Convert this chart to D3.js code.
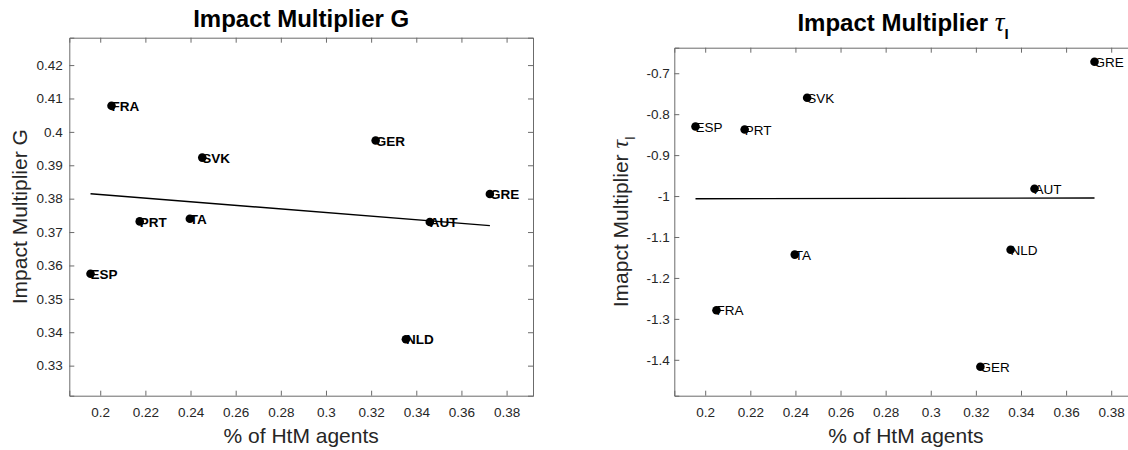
<!DOCTYPE html>
<html>
<head>
<meta charset="utf-8">
<script src="https://cdn.jsdelivr.net/npm/d3@7"></script>
<style>
  body { margin: 0; background: #fff; }
  svg { display: block; font-family: "Liberation Sans", Arial, Helvetica, sans-serif; }
</style>
</head>
<body>
<div id="chart"></div>
<script>
// Values.
const countries = ["ESP", "FRA", "PRT", "TA", "SVK", "GER", "NLD", "AUT", "GRE"];
const htmShare  = [0.1957, 0.205, 0.2175, 0.2397, 0.2452, 0.322, 0.3354, 0.346, 0.3726];
const multG     = [0.3575, 0.4078, 0.3732, 0.374, 0.3923, 0.3974, 0.3379, 0.373, 0.3814];
const multTau   = [-0.830, -1.279, -0.8375, -1.143, -0.760, -1.417, -1.131, -0.982, -0.672];

const xTicks   = [0.2, 0.22, 0.24, 0.26, 0.28, 0.3, 0.32, 0.34, 0.36, 0.38];
const gTicks   = [0.33, 0.34, 0.35, 0.36, 0.37, 0.38, 0.39, 0.4, 0.41, 0.42];
const tauTicks = [-1.4, -1.3, -1.2, -1.1, -1, -0.9, -0.8, -0.7];

const width = 1128;
const height = 450;
const axisColor = "#6b6b6b";
const textColor = "#262626";
const fmt = d => String(+d.toFixed(3));

const svg = d3.select("#chart").append("svg")
    .attr("width", width)
    .attr("height", height);

// Least squares fit of y on x, drawn from min x to max x.
function fitLine(xs, ys) {
    const mx = d3.mean(xs), my = d3.mean(ys);
    const sxy = d3.sum(xs, (v, i) => (v - mx) * (ys[i] - my));
    const sxx = d3.sum(xs, v => (v - mx) * (v - mx));
    const b = sxy / sxx, a = my - b * mx;
    const [lo, hi] = d3.extent(xs);
    return [[lo, a + b * lo], [hi, a + b * hi]];
}

function panel(o) {
    const x = d3.scaleLinear().domain([0.1863, 0.3917]).range([o.left, o.right]);
    const y = d3.scaleLinear().domain(o.yDomain).range([o.bottom, o.top]);
    const g = svg.append("g");

    // box with inward ticks on all four sides
    g.append("g")
        .attr("transform", `translate(0,${o.bottom})`)
        .call(d3.axisBottom(x).tickValues(xTicks).tickFormat(fmt).tickSize(-5).tickPadding(12))
        .call(ax => ax.selectAll("text").attr("fill", textColor).attr("font-size", 13.5));
    g.append("g")
        .attr("transform", `translate(0,${o.top})`)
        .call(d3.axisTop(x).tickValues(xTicks).tickFormat("").tickSize(-5));
    g.append("g")
        .attr("transform", `translate(${o.left},0)`)
        .call(d3.axisLeft(y).tickValues(o.yTicks).tickFormat(fmt).tickSize(-5).tickPadding(o.yPad))
        .call(ax => ax.selectAll("text").attr("fill", textColor).attr("font-size", 13.5));
    g.append("g")
        .attr("transform", `translate(${o.right},0)`)
        .call(d3.axisRight(y).tickValues(o.yTicks).tickFormat("").tickSize(-5));
    g.selectAll(".domain, .tick line").attr("stroke", axisColor);
    g.selectAll("g").attr("font-family", null);

    // fitted line
    const fit = fitLine(htmShare, o.values);
    g.append("path")
        .attr("fill", "none")
        .attr("stroke", "#000")
        .attr("stroke-width", 1.4)
        .attr("d", d3.line().x(d => x(d[0])).y(d => y(d[1]))(fit));

    // dots and country labels
    g.selectAll("circle.pt")
        .data(countries)
        .join("circle")
        .attr("class", "pt")
        .attr("cx", (d, i) => x(htmShare[i]))
        .attr("cy", (d, i) => y(o.values[i]))
        .attr("r", 4.3)
        .attr("fill", "#000");
    g.selectAll("text.lbl")
        .data(countries)
        .join("text")
        .attr("class", "lbl")
        .attr("x", (d, i) => x(htmShare[i]))
        .attr("y", (d, i) => y(o.values[i]))
        .attr("dy", "0.38em")
        .attr("font-size", 13.5)
        .attr("font-weight", o.labelWeight)
        .attr("fill", "#000")
        .text(d => d);

    const cx = (o.left + o.right) / 2;
    const cy = (o.top + o.bottom) / 2;

    // title
    const title = g.append("text")
        .attr("x", o.titleX || cx)
        .attr("y", o.titleY)
        .attr("text-anchor", "middle")
        .attr("font-size", 24)
        .attr("font-weight", "bold")
        .attr("fill", "#000");
    o.title(title);

    // x label
    g.append("text")
        .attr("x", cx)
        .attr("y", 443)
        .attr("text-anchor", "middle")
        .attr("font-size", 21)
        .attr("fill", textColor)
        .text("% of HtM agents");

    // y label
    const yl = g.append("text")
        .attr("transform", `translate(${o.yLabelX},${cy}) rotate(-90)`)
        .attr("text-anchor", "middle")
        .attr("font-size", 21)
        .attr("fill", textColor);
    o.yLabel(yl);
}

function tauParts(sel, base, tauSize, sub, shift) {
    sel.append("tspan").text(base);
    sel.append("tspan")
        .attr("font-family", "'Liberation Serif', serif")
        .attr("font-style", "italic")
        .attr("font-weight", "normal")
        .attr("font-size", tauSize)
        .text("\u03C4");
    sel.append("tspan")
        .attr("dy", shift)
        .attr("font-size", sub)
        .text("I");
}

panel({
    left: 69.3, right: 533, top: 37.7, bottom: 395.7,
    yDomain: [0.3210, 0.4282], yTicks: gTicks, yPad: 6.5,
    values: multG, labelWeight: "bold",
    titleY: 26.7,
    title: t => t.text("Impact Multiplier G"),
    yLabelX: 26.7,
    yLabel: t => t.text("Impact Multiplier G")
});

panel({
    left: 674.3, right: 1137.6, top: 47.7, bottom: 395.7,
    yDomain: [-1.4877, -0.6376], yTicks: tauTicks, yPad: 4.5,
    values: multTau, labelWeight: "normal",
    titleX: 903, titleY: 30.7,
    title: t => tauParts(t, "Impact Multiplier ", 27, 15, 8),
    yLabelX: 628.3,
    yLabel: t => tauParts(t, "Imapct Multiplier ", 24, 14, 7)
});
</script>
</body>
</html>
